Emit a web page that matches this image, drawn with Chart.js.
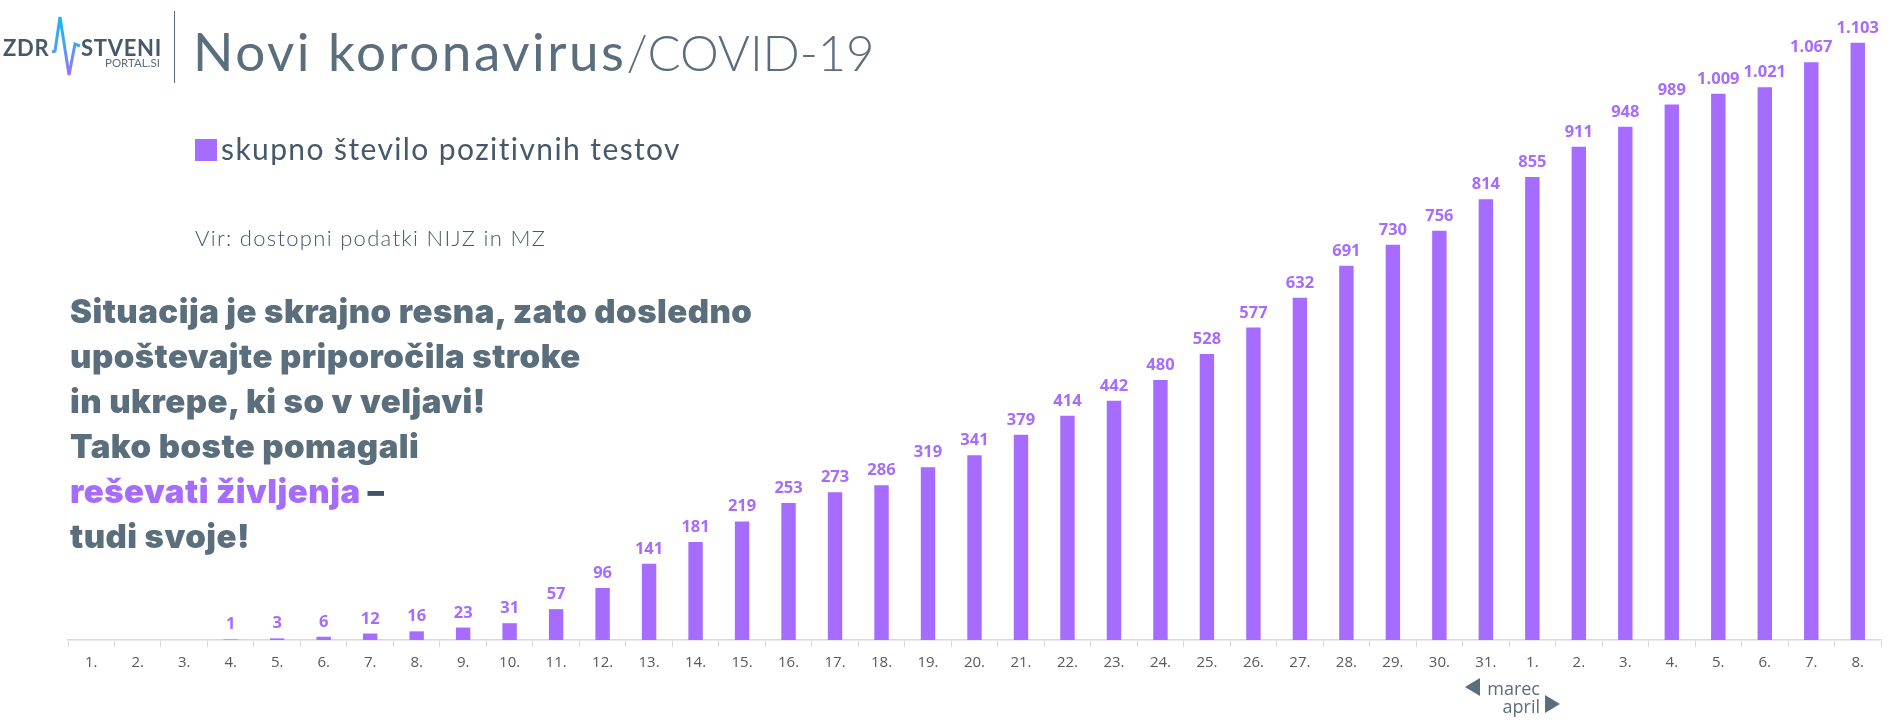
<!DOCTYPE html>
<html lang="sl">
<head>
<meta charset="utf-8">
<title>Novi koronavirus/COVID-19</title>
<script src="https://cdn.jsdelivr.net/npm/chart.js@4"></script>
<style>
html,body{margin:0;padding:0;background:#fff;width:1890px;height:720px;overflow:hidden}
#wrap{position:relative;width:1890px;height:720px}
#c{position:absolute;left:0;top:0}
.t{position:absolute;white-space:nowrap;color:#5a6e7c;line-height:1}
#title{left:193px;top:19px;font:400 53px Lato,sans-serif;letter-spacing:2.5px}
#title span{font-weight:300;font-size:49px;letter-spacing:-.1px}
#legbox{position:absolute;left:195px;top:139px;width:22px;height:22px;background:#a66bff}
#legtext{left:221px;top:130px;font:400 30px Lato,sans-serif;letter-spacing:1.4px;color:#46596a}
#vir{left:195px;top:224px;font:300 22px Lato,sans-serif;letter-spacing:1.3px;color:#46596a}
.b{left:70px;font:900 33px Inter,sans-serif;letter-spacing:.46px}
.b em{font-style:normal;color:#a66bff}
.b i{font-style:normal;color:#3f5566}
.m{font:400 18px "Open Sans",sans-serif;text-align:right;right:350px}
.logo{font:700 22px Lato,sans-serif;color:#46596a;letter-spacing:.7px}
</style>
</head>
<body>
<div id="wrap">
<canvas id="c" width="1890" height="720"></canvas>
<svg style="position:absolute;left:0;top:0" width="300" height="90">
<defs><linearGradient id="g" x1="0" y1="0" x2="0" y2="1"><stop offset="0" stop-color="#14b8f5"/><stop offset=".55" stop-color="#4f9df5"/><stop offset="1" stop-color="#a66bff"/></linearGradient></defs>
<path d="M52 52 L55 51 L60 17 L69 75 L75 44 L80 46" fill="none" stroke="url(#g)" stroke-width="3"/>
<rect x="174" y="11" width="1" height="72" fill="#5a6e7c"/>
</svg>
<div class="t logo" style="left:3px;top:34px">ZDR</div>
<div class="t logo" style="left:81px;top:34px">STVENI</div>
<div class="t" style="left:105px;top:56px;font:400 11.5px Lato,sans-serif">PORTAL.SI</div>
<div class="t" id="title">Novi koronavirus<span>/COVID-19</span></div>
<div id="legbox"></div>
<div class="t" id="legtext">skupno število pozitivnih testov</div>
<div class="t" id="vir">Vir: dostopni podatki NIJZ in MZ</div>
<div class="t b" style="top:291px">Situacija je skrajno resna, zato dosledno</div>
<div class="t b" style="top:336px">upoštevajte priporočila stroke</div>
<div class="t b" style="top:381px">in ukrepe, ki so v veljavi!</div>
<div class="t b" style="top:426px">Tako boste pomagali</div>
<div class="t b" style="top:471px"><em>reševati življenja</em> <i>–</i></div>
<div class="t b" style="top:516px">tudi svoje!</div>
<svg style="position:absolute;left:1460px;top:672px" width="105" height="45">
<path d="M20 6 L5 15 L20 24 Z" fill="#5a6e7c"/>
<path d="M85 23 L100 32 L85 41 Z" fill="#5a6e7c"/>
</svg>
<div class="t m" style="top:676px">marec</div>
<div class="t m" style="top:694px">april</div>
</div>
<script>
const categories = ['1.','2.','3.','4.','5.','6.','7.','8.','9.','10.','11.','12.','13.','14.','15.','16.','17.','18.','19.','20.','21.','22.','23.','24.','25.','26.','27.','28.','29.','30.','31.','1.','2.','3.','4.','5.','6.','7.','8.'];
const positiveTests = [null,null,null,1,3,6,12,16,23,31,57,96,141,181,219,253,273,286,319,341,379,414,442,480,528,577,632,691,730,756,814,855,911,948,989,1009,1021,1067,1103];
const seriesName = 'skupno število pozitivnih testov';
const purple = '#a66bff';

const fmt = v => String(v).replace(/\B(?=(\d{3})+$)/g, '.');

const valueLabels = {
  id: 'valueLabels',
  afterDatasetsDraw(chart) {
    const ctx = chart.ctx;
    const meta = chart.getDatasetMeta(0);
    ctx.save();
    ctx.font = '700 16.5px "Open Sans", sans-serif';
    ctx.fillStyle = purple;
    ctx.textAlign = 'center';
    ctx.textBaseline = 'alphabetic';
    meta.data.forEach((el, i) => {
      const v = positiveTests[i];
      if (v == null) return;
      ctx.fillText(fmt(v), el.x, el.y - 10);
    });
    ctx.restore();
  }
};

new Chart(document.getElementById('c'), {
  type: 'bar',
  data: {
    labels: categories,
    datasets: [{
      label: seriesName,
      data: positiveTests,
      backgroundColor: purple,
      categoryPercentage: 1,
      barPercentage: 0.31
    }]
  },
  options: {
    responsive: false,
    animation: false,
    layout: { padding: { left: 68, right: 9, top: 0, bottom: 41 } },
    plugins: { legend: { display: false }, tooltip: { enabled: false } },
    scales: {
      x: {
        grid: { drawOnChartArea: false, drawTicks: true, tickLength: 7, color: '#d9d9d9', tickColor: '#d9d9d9', lineWidth: 1 },
        border: { color: '#d9d9d9', width: 1.5 },
        ticks: { color: '#595959', font: { family: '"Open Sans", sans-serif', size: 15 }, maxRotation: 0, minRotation: 0, autoSkip: false, padding: 7 }
      },
      y: { display: false, min: 0, max: 1182 }
    }
  },
  plugins: [valueLabels]
});
</script>
</body>
</html>
